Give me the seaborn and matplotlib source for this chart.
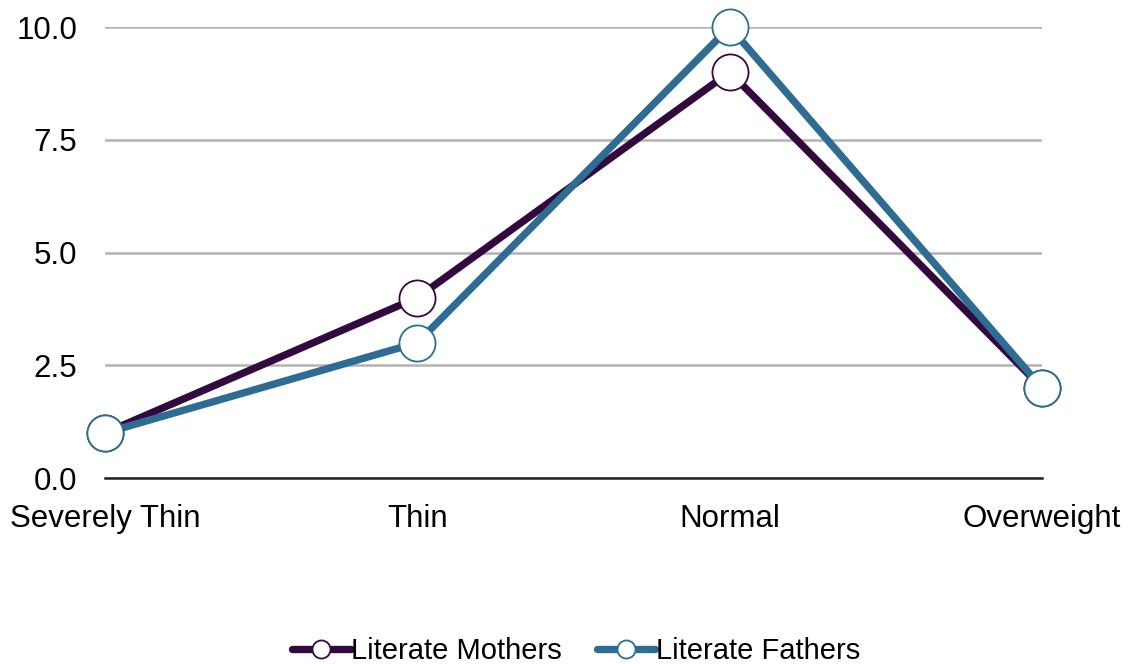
import pandas as pd
import matplotlib
matplotlib.use("Agg")
import matplotlib.pyplot as plt
import seaborn as sns
from matplotlib.lines import Line2D

categories = ["Severely Thin", "Thin", "Normal", "Overweight"]
mothers = [1, 4, 9, 2]
fathers = [1, 3, 10, 2]
series_names = ["Literate Mothers", "Literate Fathers"]
colors = ["#330a3f", "#2d6d93"]
y_ticks = [0.0, 2.5, 5.0, 7.5, 10.0]

df = pd.DataFrame({
    "category": categories * 2,
    "value": mothers + fathers,
    "series": [series_names[0]] * 4 + [series_names[1]] * 4,
})

sns.set_style("white")
plt.rcParams["font.family"] = ["Liberation Sans", "DejaVu Sans"]

fig = plt.figure(figsize=(11.32, 6.64), dpi=100)
ax = fig.add_axes([0.0928, 0.2801, 0.8277, 0.6792])

for name, color in zip(series_names, colors):
    sns.lineplot(
        data=df[df["series"] == name],
        x="category",
        y="value",
        sort=False,
        color=color,
        linewidth=5.3,
        marker="o",
        markersize=26,
        markerfacecolor="white",
        markeredgecolor=color,
        markeredgewidth=1.3,
        clip_on=False,
        ax=ax,
        legend=False,
    )

ax.set_xlim(0, 3)
ax.set_ylim(0, 10)
ax.set_yticks(y_ticks)
ax.set_yticklabels([f"{t:.1f}" for t in y_ticks])
ax.yaxis.grid(True, color="#b3b3b3", linewidth=1.8)
ax.set_axisbelow(True)
ax.set_xlabel("")
ax.set_ylabel("")
ax.tick_params(axis="y", length=0, pad=20, labelsize=22.5, labelcolor="black")
ax.tick_params(axis="x", length=0, pad=19, labelsize=22.5, labelcolor="black")
for s in ["top", "right", "left"]:
    ax.spines[s].set_visible(False)
ax.spines["bottom"].set_color("#222222")
ax.spines["bottom"].set_linewidth(1.8)

handles = [
    Line2D([0], [0], color=c, linewidth=5.3, marker="o", markersize=13,
           markerfacecolor="white", markeredgecolor=c, markeredgewidth=1.3)
    for c in colors
]
leg = fig.legend(handles, series_names, loc="center", bbox_to_anchor=(0.509, 0.02),
                 ncol=2, frameon=False, fontsize=21, handlelength=2.0,
                 handletextpad=0.02, columnspacing=1.2)
for t in leg.get_texts():
    t.set_color("black")

fig.savefig("out.png", dpi=100)
